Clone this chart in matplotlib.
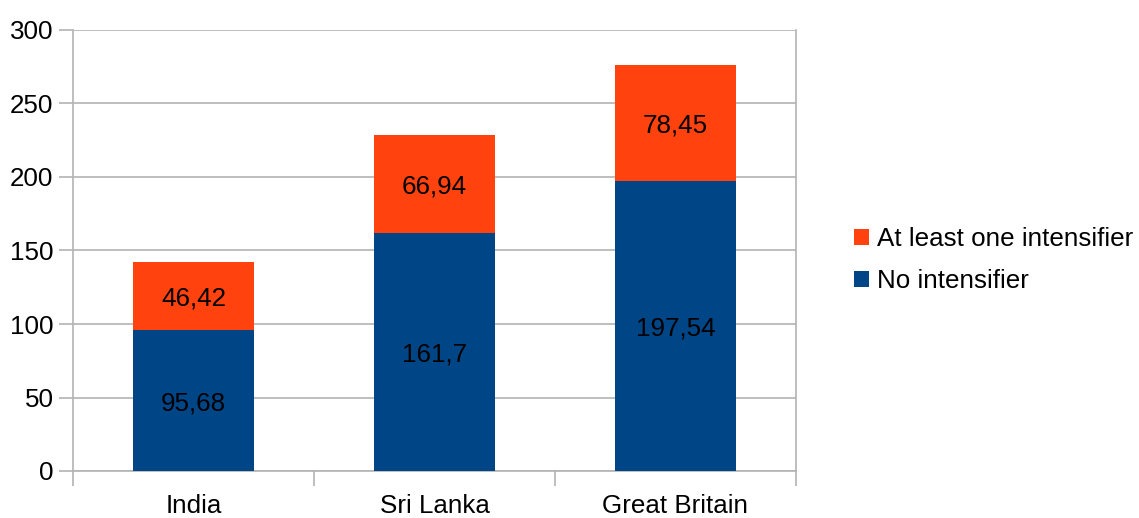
import matplotlib
matplotlib.use("Agg")
import matplotlib.pyplot as plt
from matplotlib.patches import Patch

categories = ["India", "Sri Lanka", "Great Britain"]
no_intensifier = [95.68, 161.7, 197.54]
at_least_one = [46.42, 66.94, 78.45]
no_labels = ["95,68", "161,7", "197,54"]
one_labels = ["46,42", "66,94", "78,45"]
yticks = [0, 50, 100, 150, 200, 250, 300]

BLUE = "#004586"
ORANGE = "#ff420e"
GRID = "#b3b3b3"
FS = 18.7

plt.rcParams['font.family'] = ['Liberation Sans', 'DejaVu Sans']

fig = plt.figure(figsize=(11.39, 5.18), dpi=100)
ax = fig.add_axes([73/1139, 47/518, 723/1139, 441/518])

x = list(range(len(categories)))
ax.bar(x, no_intensifier, width=0.5, color=BLUE, zorder=3)
ax.bar(x, at_least_one, width=0.5, bottom=no_intensifier, color=ORANGE, zorder=3)

for i in x:
    ax.text(i, no_intensifier[i] / 2, no_labels[i], ha='center', va='center_baseline',
            fontsize=FS, color='black', zorder=4)
    ax.text(i, no_intensifier[i] + at_least_one[i] / 2, one_labels[i], ha='center',
            va='center_baseline', fontsize=FS, color='black', zorder=4)

ax.set_xlim(-0.5, 2.5)
ax.set_ylim(0, 300)
ax.set_yticks(yticks)
ax.set_yticklabels([str(v) for v in yticks], fontsize=FS)
ax.yaxis.grid(True, color=GRID, linewidth=1.2, zorder=0)
ax.set_axisbelow(True)

ax.set_xticks(x)
ax.set_xticklabels(categories, fontsize=FS)
ax.tick_params(axis='x', length=0, pad=16.5)
ax.set_xticks([-0.5, 0.5, 1.5, 2.5], minor=True)
ax.tick_params(axis='x', which='minor', length=11, width=1.2, color=GRID)
ax.tick_params(axis='y', length=10, width=1.2, color=GRID, pad=4)

for s in ['left', 'right', 'bottom']:
    ax.spines[s].set_color(GRID)
    ax.spines[s].set_linewidth(1.2)
ax.spines['top'].set_visible(False)

handles = [Patch(facecolor=ORANGE, edgecolor='none'), Patch(facecolor=BLUE, edgecolor='none')]
labels = ["At least one intensifier", "No intensifier"]
fig.legend(handles, labels, loc='center left', bbox_to_anchor=(854/1139, 1 - 260/518),
           frameon=False, fontsize=FS, handlelength=0.58, handleheight=0.58,
           handletextpad=0.3, labelspacing=0.68, borderaxespad=0, borderpad=0)

fig.savefig("out.png", dpi=100)
